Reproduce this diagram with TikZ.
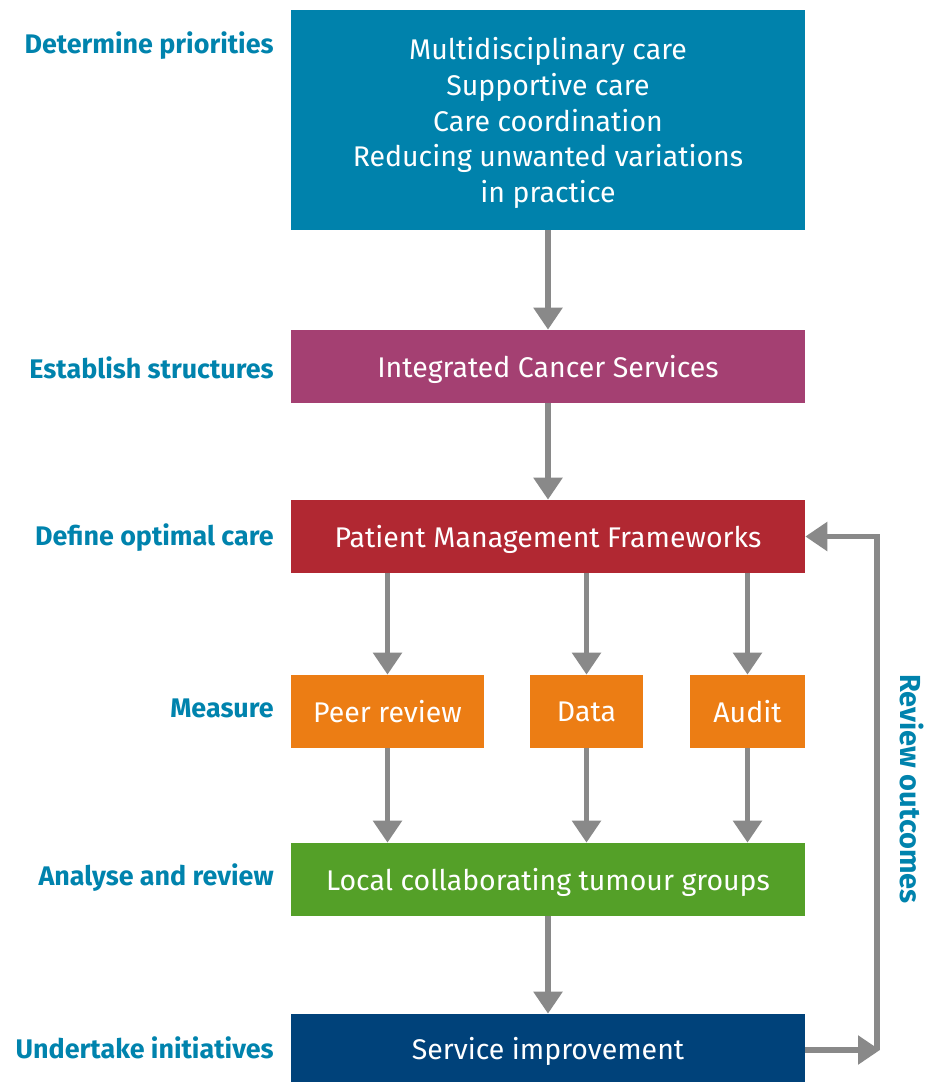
\documentclass[tikz,border=0pt]{standalone}
\usepackage{fontspec}
\setsansfont{Fira Sans}
\usepackage{tikz}
\usetikzlibrary{arrows.meta}

\definecolor{labelblue}{RGB}{0,131,173}
\definecolor{prioblue}{RGB}{0,130,172}
\definecolor{structpurple}{RGB}{164,64,114}
\definecolor{carered}{RGB}{177,40,50}
\definecolor{measureorange}{RGB}{236,125,20}
\definecolor{reviewgreen}{RGB}{84,160,40}
\definecolor{initnavy}{RGB}{0,66,122}
\definecolor{arrowgrey}{RGB}{137,137,137}

\begin{document}
\begin{tikzpicture}
    [x=0.02cm, y=-0.02cm, >={Triangle[width=0.56cm,length=0.44cm]},
    stage/.style={anchor=east, inner sep=0pt, text=labelblue, font=\sffamily\bfseries\fontsize{15.3}{18}\selectfont},
    box/.style={rectangle, text=white, inner sep=0pt, text depth=0pt, minimum height=1.46cm, font=\sffamily\fontsize{16.2}{20.4}\selectfont},
    flow/.style={draw=arrowgrey, line width=3.4pt}]
    \useasboundingbox (0,0) rectangle (929,1082);
    % boxes
    \node[box, fill=prioblue, minimum width=10.28cm, minimum height=4.4cm, align=center] (prio) at (548,120)
        {Multidisciplinary care\\Supportive care\\Care coordination\\Reducing unwanted variations\\in practice};
    \node[box, fill=structpurple, minimum width=10.28cm] (ics) at (548,366.5) {Integrated Cancer Services};
    \node[box, fill=carered, minimum width=10.28cm] (pmf) at (548,536.5) {Patient Management Frameworks};
    \node[box, fill=measureorange, minimum width=3.86cm] (peer) at (387.5,711.5) {Peer review};
    \node[box, fill=measureorange, minimum width=2.26cm] (data) at (586.5,711.5) {Data};
    \node[box, fill=measureorange, minimum width=2.3cm] (audit) at (747.5,711.5) {Audit};
    \node[box, fill=reviewgreen, minimum width=10.28cm] (tumour) at (548,879.5) {Local collaborating tumour groups};
    \node[box, fill=initnavy, minimum width=10.28cm, minimum height=1.36cm] (service) at (548,1048) {Service improvement};
    % stage labels
    \node[stage] (l1) at (274,46) {Determine priorities};
    \node[stage] (l2) at (274,368) {Establish structures};
    \node[stage] (l3) at (274,538) {Define optimal care};
    \node[stage] (l4) at (274,708) {Measure};
    \node[stage] (l5) at (274,878) {Analyse and review};
    \node[stage] (l6) at (274,1048) {Undertake initiatives};
    \node[text=labelblue, rotate=-90, font=\sffamily\bfseries\fontsize{16.5}{18}\selectfont] (rev) at (912,789) {Review outcomes};
    % arrows
    \draw[flow, ->] (prio) -- (ics);
    \draw[flow, ->] (ics) -- (pmf);
    \draw[flow, ->] (peer |- pmf.south) -- (peer);
    \draw[flow, ->] (data |- pmf.south) -- (data);
    \draw[flow, ->] (audit |- pmf.south) -- (audit);
    \draw[flow, ->] (peer) -- (peer |- tumour.north);
    \draw[flow, ->] (data) -- (data |- tumour.north);
    \draw[flow, ->] (audit) -- (audit |- tumour.north);
    \draw[flow, ->] (tumour) -- (service);
    \coordinate (corner) at (880,1050);
    \draw[flow, ->] (service.east |- corner) -- (corner);
    \draw[flow, ->] ([xshift=-1.7pt]corner) -- ([xshift=-1.7pt]corner |- pmf.east) -- (pmf.east);
\end{tikzpicture}
\end{document}
